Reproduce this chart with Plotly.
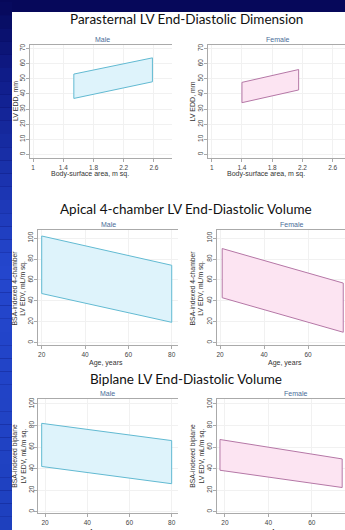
import plotly.graph_objects as go

# ---------------- data ----------------
bsa_male = [1.54, 2.58]
edd_male_upper = [53.1, 63.8]
edd_male_lower = [37.0, 48.0]
bsa_female = [1.40, 2.15]
edd_female_upper = [47.6, 56.1]
edd_female_lower = [34.2, 42.6]

age_a4c_male = [20, 80]
a4c_male_upper = [102, 74]
a4c_male_lower = [47, 19.5]
age_a4c_female = [21, 76]
a4c_female_upper = [90, 57]
a4c_female_lower = [43, 10]

age_bp_male = [18.4, 80]
bp_male_upper = [82, 66]
bp_male_lower = [42, 26]
age_bp_female = [17.7, 74]
bp_female_upper = [67, 49]
bp_female_lower = [38.5, 22.5]

bsa_ticks = [1, 1.4, 1.8, 2.2, 2.6]
bsa_ticklabels = ["1", "1.4", "1.8", "2.2", "2.6"]
edd_ticks = [0, 10, 20, 30, 40, 50, 60, 70]
age_ticks = [20, 40, 60, 80]
vol_ticks = [0, 20, 40, 60, 80, 100]

section_titles = ["Parasternal LV End-Diastolic Dimension",
                  "Apical 4-chamber LV End-Diastolic Volume",
                  "Biplane LV End-Diastolic Volume"]
panel_labels = ["Male", "Female"]
x_titles = ["Body-surface area, m sq.", "Age, years", "Age, years"]
y_titles = ["LV EDD, mm",
            "BSA-indexed 4-chamber<br>LV EDV, mL/m sq.",
            "BSA-indexed biplane<br>LV EDV, mL/m sq."]

# ---------------- layout helpers ----------------
W, H = 345, 530
def fx(px):
    return px / W
def fy(py):
    return 1 - py / H

MALE_FILL, MALE_LINE = "rgba(222,243,251,1)", "#62bad2"
FEM_FILL, FEM_LINE = "rgba(252,228,242,1)", "#b577a6"

fig = go.Figure()

def band(xs, up, lo, ax, fill, line):
    px_ = [xs[0], xs[1], xs[1], xs[0], xs[0]]
    py_ = [up[0], up[1], lo[1], lo[0], up[0]]
    fig.add_trace(go.Scatter(x=px_, y=py_, mode="lines", fill="toself",
                             fillcolor=fill, line=dict(color=line, width=1),
                             xaxis="x" + ax, yaxis="y" + ax,
                             hoverinfo="skip", showlegend=False))

band(bsa_male, edd_male_upper, edd_male_lower, "", MALE_FILL, MALE_LINE)
band(bsa_female, edd_female_upper, edd_female_lower, "2", FEM_FILL, FEM_LINE)
band(age_a4c_male, a4c_male_upper, a4c_male_lower, "3", MALE_FILL, MALE_LINE)
band(age_a4c_female, a4c_female_upper, a4c_female_lower, "4", FEM_FILL, FEM_LINE)
band(age_bp_male, bp_male_upper, bp_male_lower, "5", MALE_FILL, MALE_LINE)
band(age_bp_female, bp_female_upper, bp_female_lower, "6", FEM_FILL, FEM_LINE)

tickfont = dict(family="Liberation Sans, Arial, sans-serif", size=6.5, color="#444")
def xax(dom, rng, tv, tt, anchor):
    return dict(domain=[fx(dom[0]), fx(dom[1])], range=rng, tickvals=tv, ticktext=tt,
                anchor=anchor, showline=True, mirror=True, linecolor="#aaaaaa", linewidth=1,
                ticks="outside", ticklen=3, tickcolor="#aaaaaa", tickfont=tickfont,
                showgrid=True, gridcolor="#f1f1f1", gridwidth=1, zeroline=False,
                fixedrange=True)
def yax(dom, rng, tv, anchor):
    return dict(domain=[fy(dom[1]), fy(dom[0])], range=rng, tickvals=tv,
                anchor=anchor, showline=True, mirror=False, linecolor="#aaaaaa", linewidth=1,
                ticks="outside", ticklen=3, tickcolor="#aaaaaa", tickfont=tickfont,
                ticklabelstandoff=-2,
                tickangle=-90, showgrid=True, gridcolor="#f1f1f1", gridwidth=1,
                zeroline=False, fixedrange=True)

age_tt = [str(v) for v in age_ticks]
layout_axes = dict(
    xaxis=xax([30, 172], [0.960, 2.839], bsa_ticks, bsa_ticklabels, "y"),
    yaxis=yax([43, 157], [-2.6, 72.4], edd_ticks, "x"),
    xaxis2=xax([208, 345], [0.951, 2.763], bsa_ticks, bsa_ticklabels, "y2"),
    yaxis2=yax([43, 157], [-2.6, 72.4], edd_ticks, "x2"),
    xaxis3=xax([37.7, 178], [18.15, 82.9], age_ticks, age_tt, "y3"),
    yaxis3=yax([229, 344], [-1.9, 107.6], vol_ticks, "x3"),
    xaxis4=xax([216.7, 345], [18.5, 76.8], age_ticks, age_tt, "y4"),
    yaxis4=yax([229, 344], [-1.9, 107.6], vol_ticks, "x4"),
    xaxis5=xax([38.3, 178], [16.8, 83.0], age_ticks, age_tt, "y5"),
    yaxis5=yax([399, 513], [-1.2, 104.1], vol_ticks, "x5"),
    xaxis6=xax([216.7, 345], [16.2, 75.3], age_ticks, age_tt, "y6"),
    yaxis6=yax([399, 513], [-1.2, 104.1], vol_ticks, "x6"),
)

# ---------------- background ----------------
shapes = []
shapes.append(dict(type="rect", xref="paper", yref="paper", x0=0, x1=1, y0=0, y1=1,
                   fillcolor="#06085a", line=dict(width=0), layer="below"))
def lerp(c1, c2, t):
    return tuple(int(round(a + (b - a) * t)) for a, b in zip(c1, c2))
stops = [(0.0, (6, 8, 90)), (0.15, (16, 30, 140)), (0.5, (36, 70, 205)), (1.0, (30, 64, 190))]
N = 40
for i in range(N):
    t = (i + 0.5) / N
    for j in range(len(stops) - 1):
        if stops[j][0] <= t <= stops[j + 1][0]:
            tt = (t - stops[j][0]) / (stops[j + 1][0] - stops[j][0])
            c = lerp(stops[j][1], stops[j + 1][1], tt)
            break
    shapes.append(dict(type="rect", xref="paper", yref="paper",
                       x0=0, x1=fx(12), y0=fy(H * (i + 1) / N), y1=fy(H * i / N),
                       fillcolor="rgb(%d,%d,%d)" % c, line=dict(width=0), layer="below"))
shapes.append(dict(type="rect", xref="paper", yref="paper", x0=fx(12), x1=1, y0=0, y1=fy(10),
                   fillcolor="white", line=dict(width=0), layer="below"))

# ---------------- text ----------------
ann = []
title_font = dict(family="Lato, Open Sans, sans-serif", size=13.5, color="#111")
sub_font = dict(family="Liberation Sans, Arial, sans-serif", size=7, color="#4a6c98")
lab_font = dict(family="Liberation Sans, Arial, sans-serif", size=7, color="#333")
lab2_font = dict(family="Liberation Sans, Arial, sans-serif", size=6.8, color="#333")

def text(x, y, s, font, angle=0):
    ann.append(dict(text=s, x=fx(x), y=fy(y), xref="paper", yref="paper",
                    showarrow=False, font=font, textangle=angle,
                    xanchor="center", yanchor="middle"))

title_y = [17, 208, 378]
sub_y = [38, 223, 393]
sub_x = [(102, 277), (108, 291), (107, 295)]
xt_y = [173, 362, 532]
xt_x = [(90, 266), (106, 285), (106, 288)]
yt_x = [(15.5, 193), (19.5, 197.5), (19.5, 197.5)]
yt_y = [100, 287, 456]
for k in range(3):
    text(186, title_y[k], section_titles[k], title_font)
    for p in range(2):
        text(sub_x[k][p], sub_y[k], panel_labels[p], sub_font)
        text(xt_x[k][p], xt_y[k], x_titles[k], lab_font)
        text(yt_x[k][p], yt_y[k], y_titles[k], lab_font if k == 0 else lab2_font, angle=-90)

fig.update_layout(width=W, height=H, margin=dict(l=0, r=0, t=0, b=0),
                  paper_bgcolor="#06085a", plot_bgcolor="white",
                  showlegend=False, shapes=shapes, annotations=ann, **layout_axes)

fig.write_html("out.html", config={"displayModeBar": False},
               post_script="document.body.style.margin='0';document.body.style.padding='0';"
                           "document.documentElement.style.overflow='hidden';")
